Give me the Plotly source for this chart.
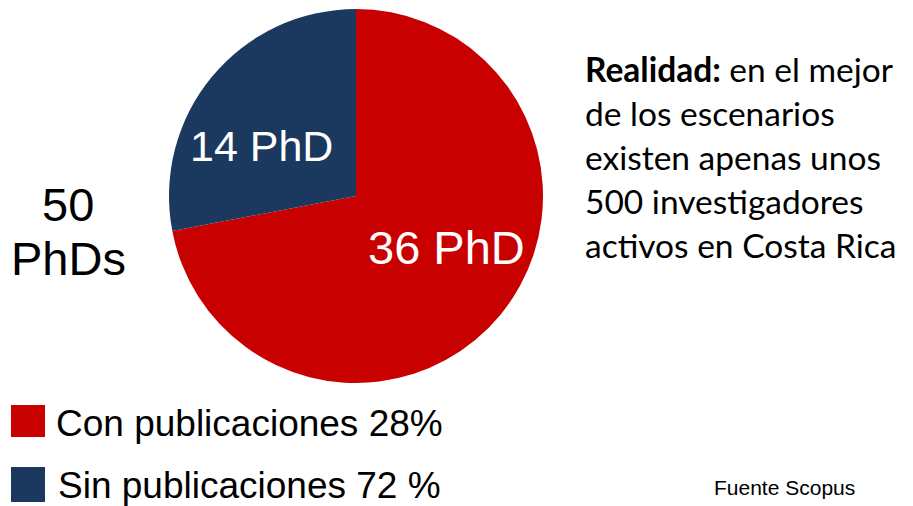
import plotly.graph_objects as go

W, H = 913, 506
OFF = 8  # page body margin offset

categories = ["Con publicaciones", "Sin publicaciones"]
values = [36, 14]
colors = ["#C80000", "#1B385E"]
legend_labels = ["Con publicaciones 28%", "Sin publicaciones 72 %"]
total_label = ["50", "PhDs"]
note_lines = ["<b>Realidad:</b> en el mejor", "de los escenarios", "existen apenas unos",
              "500 investigadores", "activos en Costa Rica"]
source = "Fuente Scopus"

def px(x):
    return (x - OFF) / W

def py(y):
    return 1 - (y - OFF) / H

cx, cy, r = 356, 196, 187

fig = go.Figure()
fig.add_trace(go.Pie(
    labels=categories, values=values, sort=False, direction="clockwise",
    rotation=0, marker=dict(colors=colors, line=dict(width=0)),
    textinfo="none", hoverinfo="label+value", showlegend=False,
    domain=dict(x=[px(cx - r), px(cx + r)], y=[py(cy + r), py(cy - r)]),
))

ARIAL = "Liberation Sans, Arial"
ann = []
# slice labels
ann.append(dict(x=px(446), y=py(248), text=f"{values[0]} PhD", font=dict(size=47, color="white", family=ARIAL)))
ann.append(dict(x=px(262), y=py(146), text=f"{values[1]} PhD", font=dict(size=43, color="white", family=ARIAL)))
# total label
ann.append(dict(x=px(68), y=py(204), text=total_label[0], font=dict(size=47, color="black", family=ARIAL)))
ann.append(dict(x=px(68), y=py(258), text=total_label[1], font=dict(size=47, color="black", family=ARIAL)))
# note lines
for i, t in enumerate(note_lines):
    ann.append(dict(x=px(583), y=py(69 + 44 * i), text=t, xanchor="left",
                    font=dict(size=33.5, color="black", family="Lato, Open Sans")))
# legend
shapes = []
leg_sq = [(405, 437), (467, 502)]
leg_txt_y = [423, 485]
leg_txt_x = [54, 56]
for i, (lab, col) in enumerate(zip(legend_labels, colors)):
    shapes.append(dict(type="rect", xref="paper", yref="paper", x0=px(11), x1=px(45),
                       y0=py(leg_sq[i][1]), y1=py(leg_sq[i][0]), fillcolor=col, line=dict(width=0)))
    ann.append(dict(x=px(leg_txt_x[i]), y=py(leg_txt_y[i]), text=lab, xanchor="left",
                    font=dict(size=37, color="black", family=ARIAL)))
ann.append(dict(x=px(784), y=py(487), text=source, font=dict(size=21, color="black", family=ARIAL)))

for a in ann:
    a.setdefault("xanchor", "center")
    a.update(xref="paper", yref="paper", yanchor="middle", showarrow=False)

fig.update_layout(width=W, height=H, margin=dict(l=0, r=0, t=0, b=0),
                  paper_bgcolor="white", plot_bgcolor="white",
                  annotations=ann, shapes=shapes)
fig.write_html("out.html")
